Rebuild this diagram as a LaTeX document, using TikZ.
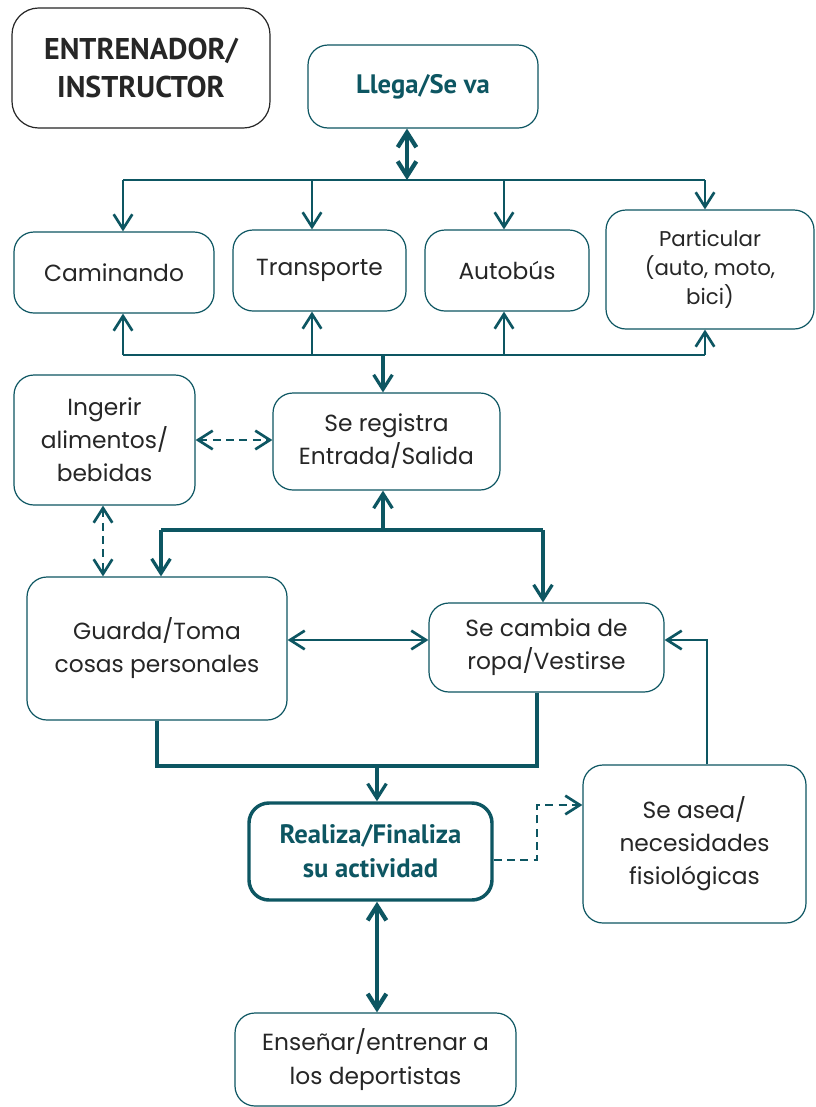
\documentclass[tikz,border=0pt]{standalone}
\usepackage{fontspec}
\setmainfont{Poppins}
\newfontfamily\headfont{PT Sans}
\usetikzlibrary{arrows.meta}
\definecolor{teal1}{HTML}{0D5662}
\definecolor{ink}{HTML}{262626}
\begin{document}
\begin{tikzpicture}[x=0.75pt,y=-0.75pt,
  box/.style={draw=teal1, line width=0.9pt, rounded corners=15pt, align=center,
    inner sep=0pt, text=ink, font=\fontsize{17.5}{24.8}\selectfont},
  keybox/.style={box, line width=2.6pt, text=teal1,
    font=\headfont\bfseries\fontsize{20}{25.5}\selectfont},
  conn/.style={draw=teal1, line width=2pt},
  mid/.style={draw=teal1, line width=2.4pt},
  heavy/.style={draw=teal1, line width=3.2pt},
  dashline/.style={draw=teal1, line width=2pt, dash pattern=on 6pt off 4pt},
  tip/.style={-{Straight Barb[length=11pt,width=14pt]}},
  dtip/.style={{Straight Barb[length=11pt,width=14pt]}-{Straight Barb[length=11pt,width=14pt]}}
]
\fill[white] (0,0) rectangle (815,1107);
\useasboundingbox (0,0) rectangle (815,1107);

% boxes
\node[box, draw=ink, rounded corners=20pt, minimum width=193.5pt, minimum height=90pt,
  font=\headfont\bfseries\fontsize{22.5}{28.5}\selectfont] (ent) at (141,68) {ENTRENADOR/\\INSTRUCTOR};
\node[box, text=teal1, minimum width=172.5pt, minimum height=62.25pt,
  font=\headfont\bfseries\fontsize{20}{24}\selectfont] (llega) at (423,86.5) {Llega/Se va};
\node[box, minimum width=150pt, minimum height=60.75pt] (cam) at (114,272.5) {Caminando};
\node[box, minimum width=129.75pt, minimum height=60.75pt] (tra) at (319.5,270.5) {Transporte};
\node[box, minimum width=123pt, minimum height=60.75pt] (aut) at (507,270.5) {Autobús};
\node[box, minimum width=156pt, minimum height=89.25pt, font=\fontsize{16}{22}\selectfont] (par) at (710,269.5) {Particular\\(auto, moto,\\bici)};
\node[box, minimum width=135.75pt, minimum height=97.5pt] (ing) at (104.5,440) {Ingerir\\alimentos/\\bebidas};
\node[box, minimum width=170.25pt, minimum height=72.75pt] (reg) at (386.5,441.5) {Se registra\\Entrada/Salida};
\node[box, minimum width=195pt, minimum height=107.25pt] (gua) at (157,648.5) {Guarda/Toma\\cosas personales};
\node[box, minimum width=176.25pt, minimum height=66.75pt] (vest) at (546.5,647.5) {Se cambia de\\ropa/Vestirse};
\node[keybox, minimum width=182.25pt, minimum height=72.75pt] (rea) at (370.5,851.5) {Realiza/Finaliza\\su actividad};
\node[box, minimum width=167.25pt, minimum height=118.5pt] (ase) at (694.5,844) {Se asea/\\necesidades\\fisiológicas};
\node[box, minimum width=210.75pt, minimum height=69.75pt] (ens) at (375.5,1059.5) {Enseñar/entrenar a\\los deportistas};

% arrival / departure to the means of transport
\coordinate (tb) at (407,180);
\coordinate (tb1) at (123,180);
\coordinate (tb2) at (312,180);
\coordinate (tb3) at (504,180);
\coordinate (tb4) at (705,180);
\draw[heavy, dtip] (llega.south -| tb) -- (tb);
\draw[conn] (tb1) -- (tb4);
\draw[conn, tip] (tb1) -- (tb1 |- cam.north);
\draw[conn, tip] (tb2) -- (tb2 |- tra.north);
\draw[conn, tip] (tb3) -- (tb3 |- aut.north);
\draw[conn, tip] (tb4) -- (tb4 |- par.north);

\coordinate (bb1) at (123,355);
\coordinate (bb2) at (312,355);
\coordinate (bb3) at (504,355);
\coordinate (bb4) at (705,355);
\coordinate (bbc) at (383,355);
\draw[conn] (bb1) -- (bb4);
\draw[conn, tip] (bb1) -- (bb1 |- cam.south);
\draw[conn, tip] (bb2) -- (bb2 |- tra.south);
\draw[conn, tip] (bb3) -- (bb3 |- aut.south);
\draw[conn, tip] (bb4) -- (bb4 |- par.south);
\draw[mid, tip] (bbc) -- (bbc |- reg.north);

% food and drink
\coordinate (dv) at (103,540);
\draw[dashline, dtip] (ing.east) -- (ing.east -| reg.west);
\draw[dashline, dtip] (ing.south -| dv) -- (gua.north -| dv);

% registration to lockers and changing
\coordinate (mb1) at (161,530);
\coordinate (mb2) at (543,530);
\coordinate (mbc) at (383,530);
\draw[heavy] (mb1) -- (mb2);
\draw[mid, tip] (mbc) -- (mbc |- reg.south);
\draw[mid, tip] (mb1) -- (mb1 |- gua.north);
\draw[mid, tip] (mb2) -- (mb2 |- vest.north);

\coordinate (gv) at (350,640);
\draw[conn, dtip] (gua.east |- gv) -- (vest.west |- gv);

% towards the activity
\coordinate (lb1) at (157,766);
\coordinate (lb2) at (537,766);
\coordinate (lbc) at (377,766);
\draw[heavy] (gua.south -| lb1) -- (lb1) -- (lb2) -- (vest.south -| lb2);
\draw[mid, tip] (lbc) -- (lbc |- rea.north);

% washing up
\coordinate (dk1) at (537,860);
\coordinate (dk2) at (537,805);
\draw[dashline, tip] (rea.east |- dk1) -- (dk1) -- (dk2) -- (dk2 -| ase.west);
\coordinate (ak) at (707,640);
\draw[conn, tip] (ase.north -| ak) -- (ak) -- (ak -| vest.east);

% teaching
\coordinate (re) at (377,950);
\draw[heavy, dtip] (rea.south -| re) -- (ens.north -| re);
\end{tikzpicture}
\end{document}
